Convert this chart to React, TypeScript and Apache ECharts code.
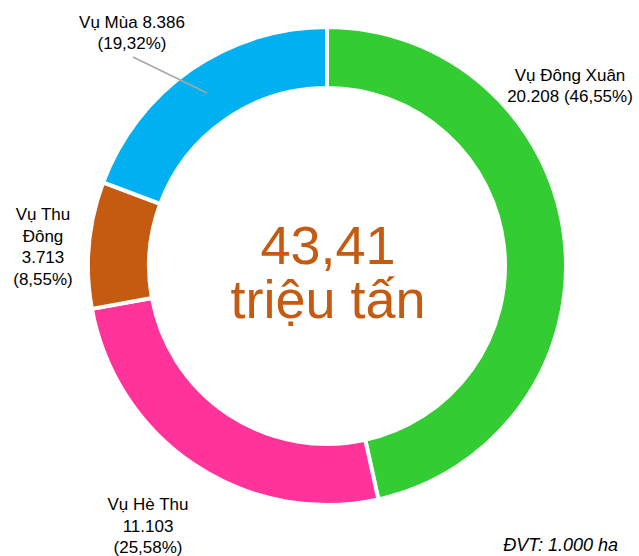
import React, { useEffect, useRef } from "react";
import * as echarts from "echarts";

const categories = ["Vụ Đông Xuân", "Vụ Hè Thu", "Vụ Thu Đông", "Vụ Mùa"];
const values = [20208, 11103, 3713, 8386];
const colors = ["#33CC33", "#FF3399", "#C55A11", "#00B0F0"];
const unitNote = "ĐVT: 1.000 ha";
const centerUnit = "triệu tấn";

const fmtThousands = (v: number) => String(v).replace(/\B(?=(\d{3})+(?!\d))/g, ".");
const fmtPct = (p: number) => p.toFixed(2).replace(".", ",") + "%";

export default function App() {
  const ref = useRef<HTMLDivElement>(null);
  useEffect(() => {
    document.body.style.margin = "0";
    const chart = echarts.init(ref.current!, null, { renderer: "svg" });
    const total = values.reduce((a, b) => a + b, 0);
    const labelPos = [
      { x: 570, y: 86 },
      { x: 148, y: 526 },
      { x: 43, y: 247 },
      { x: 132, y: 33 },
    ];
    const font = "'Liberation Sans', Arial, sans-serif";
    chart.setOption({
      animation: false,
      graphic: [
        {
          type: "text",
          x: 328,
          y: 272,
          style: {
            text: (total / 1000).toFixed(2).replace(".", ",") + "\n" + centerUnit,
            fill: "#C55A11",
            font: `54px ${font}`,
            lineHeight: 54,
            align: "center",
            verticalAlign: "middle",
          },
        },
        {
          type: "line",
          shape: { x1: 133, y1: 57, x2: 207, y2: 93 },
          style: { stroke: "#A6A6A6", lineWidth: 1.5 },
          z: 10,
        },
        {
          type: "text",
          x: 618,
          y: 545,
          style: {
            text: unitNote,
            fill: "#000",
            font: `italic 18px ${font}`,
            align: "right",
            verticalAlign: "middle",
          },
        },
      ],
      series: [
        {
          type: "pie",
          center: [327, 266],
          radius: [178, 239],
          startAngle: 90,
          clockwise: true,
          itemStyle: { borderColor: "#fff", borderWidth: 4 },
          label: {
            show: true,
            color: "#000",
            fontFamily: font,
            fontSize: 17,
            lineHeight: 21.5,
            align: "center",
            overflow: "none",
            formatter: (p: any) => {
              const v = fmtThousands(p.value);
              const pct = "(" + fmtPct((p.value / total) * 100) + ")";
              switch (p.dataIndex) {
                case 0:
                  return `${p.name}\n${v} ${pct}`;
                case 1:
                  return `${p.name}\n${v}\n${pct}`;
                case 2:
                  return `${p.name.replace(" Đông", "\nĐông")}\n${v}\n${pct}`;
                default:
                  return `${p.name} ${v}\n${pct}`;
              }
            },
          },
          labelLine: { show: false },
          labelLayout: (params: any) => ({
            x: labelPos[params.dataIndex].x,
            y: labelPos[params.dataIndex].y,
            width: 200,
            align: "center",
            verticalAlign: "middle",
          }),
          emphasis: { disabled: true },
          data: categories.map((name, i) => ({
            name,
            value: values[i],
            itemStyle: { color: colors[i] },
          })),
        },
      ],
    });
    return () => chart.dispose();
  }, []);
  return <div ref={ref} style={{ width: 639, height: 556 }} />;
}
